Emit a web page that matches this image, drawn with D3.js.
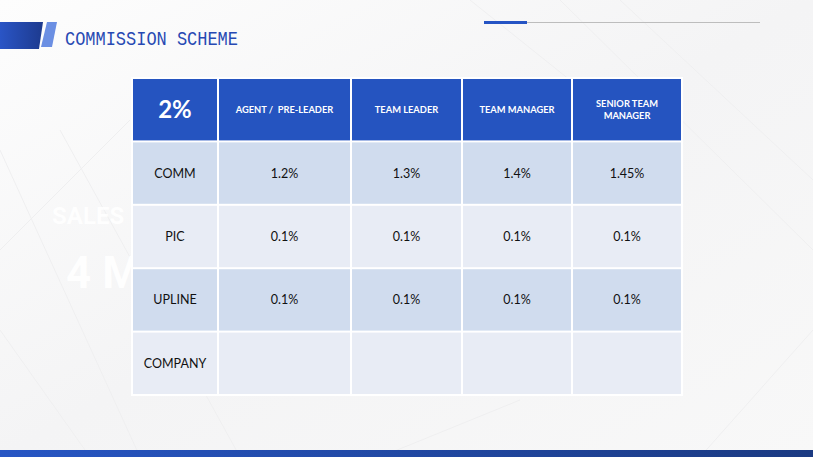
<!DOCTYPE html>
<html>
<head>
<meta charset="utf-8">
<script src="https://cdn.jsdelivr.net/npm/d3@7/dist/d3.min.js"></script>
<style>
  html, body { margin: 0; padding: 0; background: #fff; }
  #main { width: 813px; height: 457px; overflow: hidden; }
  text { white-space: pre; }
</style>
</head>
<body>
<div id="main"></div>
<script>
const ctx = {
    w: 813,
    h: 457,
    left: 132,
    right: 682,
    top: 78,
    bottom: 395
};

// table content
const cornerLabel = "2%";
const columns = ["AGENT /  PRE-LEADER", "TEAM LEADER", "TEAM MANAGER", "SENIOR TEAM MANAGER"];
const rowLabels = ["COMM", "PIC", "UPLINE", "COMPANY"];
const commValues = ["1.2%", "1.3%", "1.4%", "1.45%"];
const picValues = ["0.1%", "0.1%", "0.1%", "0.1%"];
const uplineValues = ["0.1%", "0.1%", "0.1%", "0.1%"];
const companyValues = ["", "", "", ""];

// layout: relative column widths (label column first)
const colWeights = [86, 133, 111, 110, 110];

function drawBackground(svg) {
    const defs = svg.append("defs");
    const bg = defs.append("linearGradient").attr("id", "bgGrad")
        .attr("x1", "0").attr("y1", "0").attr("x2", "1").attr("y2", "1");
    bg.append("stop").attr("offset", "0").attr("stop-color", "#fdfdfd");
    bg.append("stop").attr("offset", "0.5").attr("stop-color", "#f4f4f5");
    bg.append("stop").attr("offset", "1").attr("stop-color", "#f8f8f8");

    const bar = defs.append("linearGradient").attr("id", "barGrad");
    bar.append("stop").attr("offset", "0").attr("stop-color", "#2756c4");
    bar.append("stop").attr("offset", "1").attr("stop-color", "#1b3a82");

    const logo = defs.append("linearGradient").attr("id", "logoGrad");
    logo.append("stop").attr("offset", "0").attr("stop-color", "#2a55c6");
    logo.append("stop").attr("offset", "1").attr("stop-color", "#1d3a8e");

    svg.append("rect").attr("width", ctx.w).attr("height", ctx.h).attr("fill", "url(#bgGrad)");

    // faint architectural lines
    const faint = svg.append("g").attr("stroke", "#efeff0").attr("stroke-width", 1).attr("fill", "none");
    [[0, 150, 140, 457], [0, 330, 90, 457], [60, 130, 240, 457], [560, 0, 813, 250], [620, 0, 813, 180],
     [700, 457, 813, 330], [380, 457, 520, 400], [470, 0, 620, 120], [0, 250, 130, 120]].forEach(l => {
        faint.append("line").attr("x1", l[0]).attr("y1", l[1]).attr("x2", l[2]).attr("y2", l[3]);
    });

    // watermark text
    svg.append("text").attr("x", 52).attr("y", 224).attr("fill", "#ffffff").attr("opacity", 0.9)
        .attr("font-family", "Roboto, 'Liberation Sans', sans-serif").attr("font-weight", "bold")
        .attr("font-size", 24).text("SALES");
    svg.append("text").attr("x", 66).attr("y", 288).attr("fill", "#ffffff").attr("opacity", 0.9)
        .attr("font-family", "Roboto, 'Liberation Sans', sans-serif").attr("font-weight", "bold")
        .attr("font-size", 44).text("4 M");

    // bottom bar
    svg.append("rect").attr("x", 0).attr("y", 450).attr("width", ctx.w).attr("height", 7).attr("fill", "url(#barGrad)");

    // title logo
    svg.append("path").attr("d", "M0,22 L43,22 L39,49 L0,49 Z").attr("fill", "url(#logoGrad)");
    svg.append("path").attr("d", "M47,22 L57,22 L52,47 L41,47 Z").attr("fill", "#6b8fe3");

    svg.append("text").attr("transform", "translate(65,45) scale(1,1.2)")
        .attr("fill", "#2749b3")
        .attr("font-family", "'Liberation Mono', 'DejaVu Sans Mono', monospace")
        .attr("font-size", 17).attr("textLength", 173)
        .text("COMMISSION SCHEME");

    // top right rule
    svg.append("line").attr("x1", 527).attr("x2", 760).attr("y1", 22.5).attr("y2", 22.5)
        .attr("stroke", "#bdbdbd").attr("stroke-width", 1);
    svg.append("rect").attr("x", 484).attr("y", 21).attr("width", 43).attr("height", 3).attr("fill", "#2554c4");
}

function drawTable(svg) {
    const rows = [commValues, picValues, uplineValues, companyValues];
    const rowKeys = ["header"].concat(rowLabels);

    const y = d3.scaleBand().domain(rowKeys).range([ctx.top, ctx.bottom]);

    const cum = [0];
    colWeights.forEach((w, i) => cum.push(cum[i] + w));
    const x = d3.scaleLinear().domain([0, cum[cum.length - 1]]).range([ctx.left, ctx.right]);
    const colX = i => x(cum[i]);
    const colW = i => x(cum[i + 1]) - x(cum[i]);

    const g = svg.append("g").attr("id", "table");
    g.append("rect").attr("x", ctx.left - 1).attr("y", ctx.top - 1)
        .attr("width", ctx.right - ctx.left + 2).attr("height", ctx.bottom - ctx.top + 2)
        .attr("fill", "#ffffff");

    const cells = [];
    rowKeys.forEach((rk, r) => {
        for (let c = 0; c < colWeights.length; c++) {
            let text = "";
            if (r === 0) text = c === 0 ? cornerLabel : columns[c - 1];
            else text = c === 0 ? rowLabels[r - 1] : rows[r - 1][c - 1];
            cells.push({ rk, r, c, text });
        }
    });

    const fillFor = d => d.r === 0 ? "#2554c0" : (d.r % 2 === 1 ? "#d0dcee" : "#e8ecf5");

    g.selectAll("rect.cell").data(cells).join("rect")
        .attr("class", "cell")
        .attr("x", d => colX(d.c) + 1)
        .attr("y", d => y(d.rk) + 1)
        .attr("width", d => colW(d.c) - 2)
        .attr("height", d => y.bandwidth() - 2)
        .attr("fill", fillFor);

    const headerTexts = cells.filter(d => d.r === 0);
    const bodyTexts = cells.filter(d => d.r > 0);

    g.selectAll("text.head").data(headerTexts).join("text")
        .attr("class", "head")
        .attr("x", d => colX(d.c) + colW(d.c) / 2)
        .attr("y", d => y(d.rk) + y.bandwidth() / 2)
        .attr("text-anchor", "middle")
        .attr("fill", "#ffffff")
        .attr("font-family", "Lato, 'Open Sans', sans-serif")
        .attr("font-weight", "bold")
        .attr("font-size", d => d.c === 0 ? 24 : 9.3)
        .each(function (d) {
            const t = d3.select(this);
            const words = d.text.split(" ");
            if (d.c > 0 && d.text.length > 14 && !d.text.includes("/")) {
                const l1 = words.slice(0, 2).join(" "), l2 = words.slice(2).join(" ");
                t.append("tspan").attr("x", t.attr("x")).attr("dy", "-0.3em").text(l1);
                t.append("tspan").attr("x", t.attr("x")).attr("dy", "1.3em").text(l2);
            } else {
                t.attr("dy", "0.35em").text(d.text);
            }
        });

    g.selectAll("text.body").data(bodyTexts).join("text")
        .attr("class", "body")
        .attr("x", d => colX(d.c) + colW(d.c) / 2)
        .attr("y", d => y(d.rk) + y.bandwidth() / 2)
        .attr("dy", "0.36em")
        .attr("text-anchor", "middle")
        .attr("fill", "#111111")
        .attr("font-family", "Lato, 'Open Sans', sans-serif")
        .attr("font-size", 12.5)
        .text(d => d.text);
}

function createViz() {
    const svg = d3.select("#main").append("svg")
        .attr("width", ctx.w).attr("height", ctx.h);
    drawBackground(svg);
    drawTable(svg);
}
createViz();
</script>
</body>
</html>
